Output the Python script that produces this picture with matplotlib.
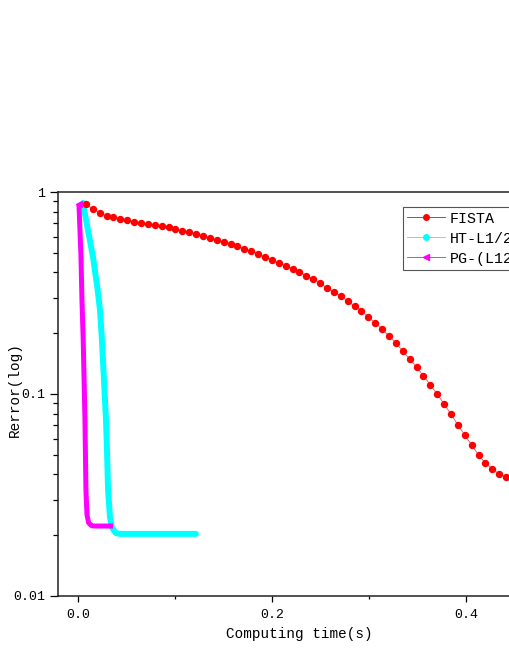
"""
Relative error vs computing time for FISTA, HT-L1/2 and PG-(L12)
"""
import matplotlib

matplotlib.use("Agg")
import matplotlib.pyplot as plt
from matplotlib.lines import Line2D
from matplotlib.ticker import FixedLocator, LogLocator, NullFormatter

plt.rcParams["font.family"] = ["Liberation Mono", "DejaVu Sans"]

# FISTA (one dot per iteration)
fista_t = [
    0.0082, 0.0153, 0.0224, 0.0295, 0.0366, 0.0437, 0.0508, 0.0579, 0.0650, 0.0721,
    0.0792, 0.0863, 0.0934, 0.1005, 0.1076, 0.1147, 0.1218, 0.1289, 0.1360, 0.1431,
    0.1502, 0.1573, 0.1644, 0.1715, 0.1786, 0.1857, 0.1928, 0.1999, 0.2070, 0.2141,
    0.2212, 0.2283, 0.2354, 0.2425, 0.2496, 0.2567, 0.2638, 0.2709, 0.2780, 0.2851,
    0.2922, 0.2993, 0.3064, 0.3135, 0.3206, 0.3277, 0.3348, 0.3419, 0.3490, 0.3561,
    0.3632, 0.3703, 0.3774, 0.3845, 0.3916, 0.3987, 0.4058, 0.4129, 0.4200, 0.4271,
    0.4342, 0.4413,
]
fista_err = [
    0.872, 0.824, 0.787, 0.761, 0.752, 0.735, 0.727, 0.710, 0.702, 0.694,
    0.686, 0.679, 0.671, 0.656, 0.641, 0.634, 0.620, 0.606, 0.592, 0.579,
    0.566, 0.553, 0.540, 0.522, 0.510, 0.493, 0.477, 0.461, 0.445, 0.430,
    0.416, 0.402, 0.384, 0.371, 0.354, 0.335, 0.320, 0.306, 0.289, 0.273,
    0.258, 0.240, 0.225, 0.209, 0.194, 0.179, 0.163, 0.149, 0.136, 0.123,
    0.111, 0.100, 0.0892, 0.0796, 0.0702, 0.0627, 0.0559, 0.0499, 0.0455, 0.0425,
    0.0402, 0.0388,
]

# HT-L1/2 (markers so dense they form a thick band)
ht_t = [0.0052, 0.0089, 0.0155, 0.0203, 0.0227, 0.0247, 0.0268, 0.0289, 0.0299,
        0.0310, 0.0330, 0.0350, 0.0390, 0.0430, 0.1216]
ht_err = [0.882, 0.702, 0.477, 0.327, 0.260, 0.185, 0.117, 0.0742, 0.0527,
          0.0335, 0.0245, 0.0218, 0.0205, 0.0203, 0.0203]

# PG-(L12)
pg_t = [0.0010, 0.0031, 0.0041, 0.0054, 0.0072, 0.0082, 0.0093, 0.0110, 0.0140,
        0.0165, 0.0361]
pg_err = [0.872, 0.477, 0.292, 0.185, 0.0742, 0.0335, 0.0252, 0.0230, 0.0223,
          0.0222, 0.0222]

labels = ["FISTA", "HT-L1/2", "PG-(L12)"]
xticks = [0.0, 0.2, 0.4]
xticklabels = ["0.0", "0.2", "0.4"]
yticks = [0.01, 0.1, 1]
yticklabels = ["0.01", "0.1", "1"]

W, H = 510, 660
fig = plt.figure(figsize=(W / 100, H / 100), dpi=100)
# right part of the axes runs past the figure edge (as in the original crop)
ax = fig.add_axes([58 / W, 64 / H, 482 / W, 404 / H])

ax.plot(fista_t, fista_err, color="red", lw=0.6, alpha=0.7, zorder=3)
ax.plot(fista_t, fista_err, ls="none", marker="o", ms=4.3, color="red", mec="red", zorder=4)
ax.plot(ht_t, ht_err, color="cyan", lw=4.3, solid_joinstyle="round",
        solid_capstyle="round", zorder=2)
ax.plot(pg_t, pg_err, color="magenta", lw=3.6, solid_joinstyle="round",
        solid_capstyle="butt", zorder=2.5)
ax.plot(pg_t[:1], pg_err[:1], ls="none", marker="<", ms=5, color="magenta", zorder=2.5)

ax.set_yscale("log")
ax.set_ylim(0.01, 1)
ax.set_xlim(-0.0206, (540 - 78) / 970)

ax.yaxis.set_major_locator(FixedLocator(yticks))
ax.set_yticklabels(yticklabels)
ax.yaxis.set_minor_locator(LogLocator(base=10, subs=range(2, 10)))
ax.yaxis.set_minor_formatter(NullFormatter())
ax.set_xticks(xticks)
ax.set_xticklabels(xticklabels)
ax.set_xticks([0.1, 0.3], minor=True)

for s in ax.spines.values():
    s.set_linewidth(1.1)
    s.set_color("#222222")
ax.tick_params(axis="y", which="major", length=6, width=0.9, labelsize=9.5, pad=3)
ax.tick_params(axis="y", which="minor", length=3.5, width=0.9)
ax.tick_params(axis="x", which="major", length=4.5, width=0.9, labelsize=9.5, pad=5)
ax.tick_params(axis="x", which="minor", length=2, width=0.9)

ax.set_xlabel("Computing time(s)", fontsize=10.4, labelpad=4)
ax.set_ylabel("Rerror(log)", fontsize=10.4)
ax.yaxis.set_label_coords((22 - 58) / 482, (596 - 390) / 404)

handles = [
    Line2D([], [], color="red", lw=0.6, marker="o", ms=4, mec="red"),
    Line2D([], [], color="cyan", lw=0.6, marker="o", ms=4, mec="cyan"),
    Line2D([], [], color="magenta", lw=0.6, marker="<", ms=4, mec="magenta"),
]
leg = fig.legend(handles, labels, loc="upper left", bbox_to_anchor=(403 / W, 1 - 207 / H),
                 borderaxespad=0, fontsize=10.8, frameon=True, fancybox=False,
                 edgecolor="#555555", framealpha=1, borderpad=0.3, labelspacing=0.4,
                 handlelength=2.5, handletextpad=0.3)
leg.get_frame().set_linewidth(0.8)

fig.savefig("out.png", dpi=100)
